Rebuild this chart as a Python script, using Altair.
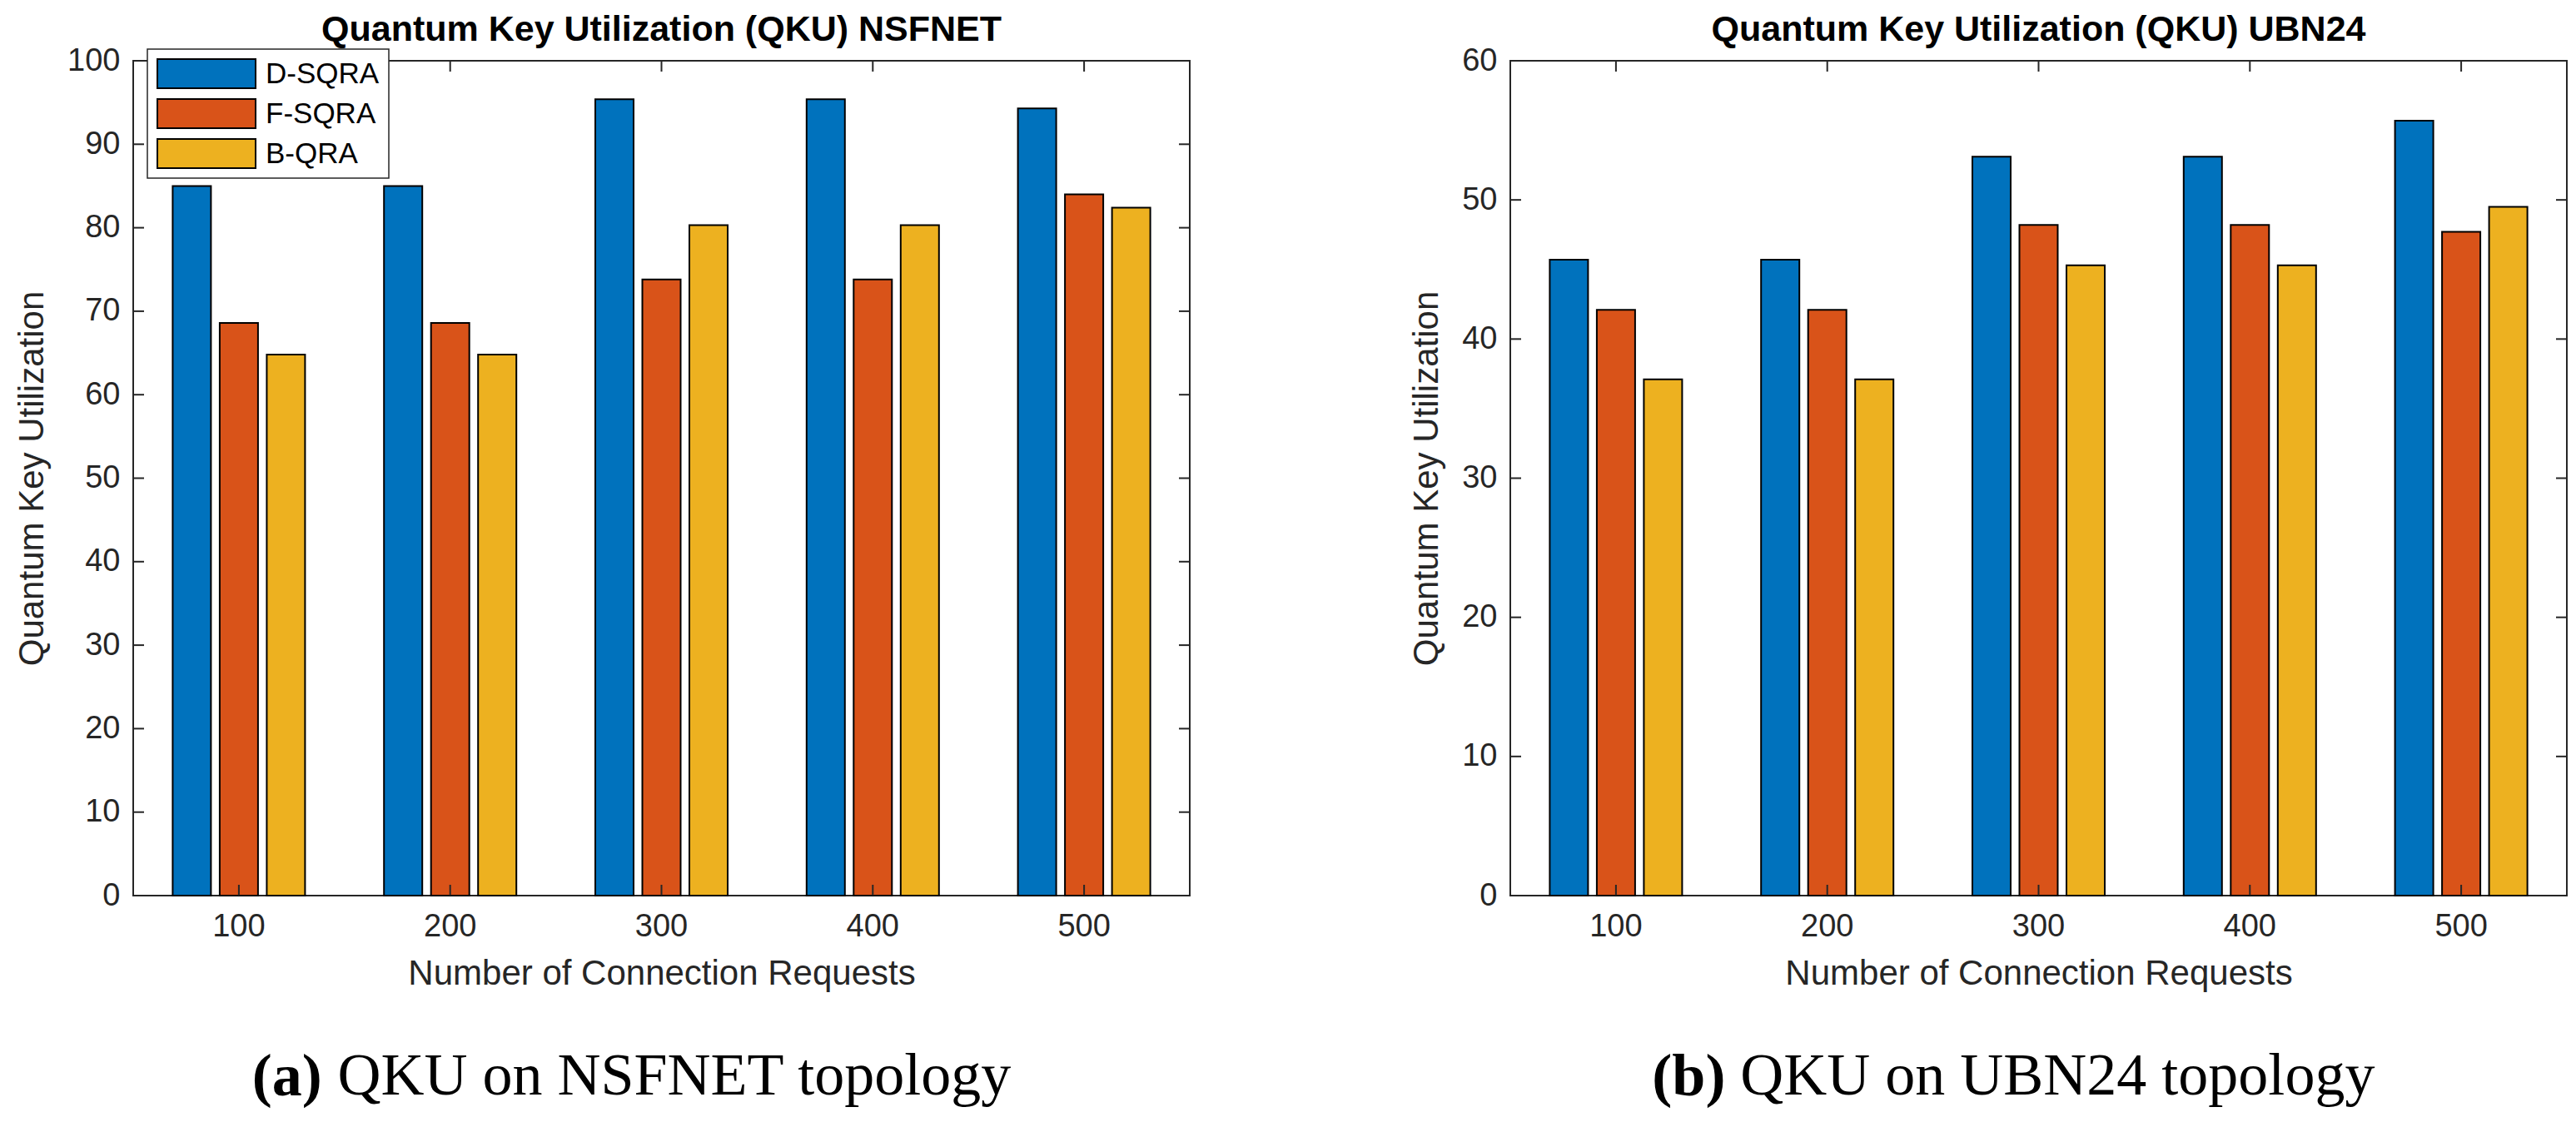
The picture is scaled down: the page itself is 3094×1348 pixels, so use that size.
import altair as alt
import pandas as pd

# ---------------- data ----------------
CATEGORIES = ["100", "200", "300", "400", "500"]
SERIES = ["D-SQRA", "F-SQRA", "B-QRA"]
COLORS = ["#0072BD", "#D95319", "#EDB120"]

NSFNET_D = [85.0, 85.0, 95.4, 95.4, 94.3]
NSFNET_F = [68.6, 68.6, 73.8, 73.8, 84.0]
NSFNET_B = [64.8, 64.8, 80.3, 80.3, 82.4]

UBN24_D = [45.7, 45.7, 53.1, 53.1, 55.7]
UBN24_F = [42.1, 42.1, 48.2, 48.2, 47.7]
UBN24_B = [37.1, 37.1, 45.3, 45.3, 49.5]

Y_TICKS_A = [0, 10, 20, 30, 40, 50, 60, 70, 80, 90, 100]
Y_TICKS_B = [0, 10, 20, 30, 40, 50, 60]

TITLE_A = "Quantum Key Utilization (QKU) NSFNET"
TITLE_B = "Quantum Key Utilization (QKU) UBN24"
CAPTION_A_TAG = "(a)"
CAPTION_A_TEXT = "QKU on NSFNET topology"
CAPTION_B_TAG = "(b)"
CAPTION_B_TEXT = "QKU on UBN24 topology"
X_TITLE = "Number of Connection Requests"
Y_TITLE = "Quantum Key Utilization"

W, H = 1269, 1003
TICK = 13
AXIS_COLOR = "#262626"
SANS = "Liberation Sans"
SERIF = "Liberation Serif"
CAP_SIZE = 72


def make_df(d, f, b):
    rows = []
    for s, vals in zip(SERIES, [d, f, b]):
        for c, v in zip(CATEGORIES, vals):
            rows.append({"cat": c, "series": s, "value": v})
    return pd.DataFrame(rows)


def panel(df, yticks, ymax, title, cap_tag, cap_text, cap_dx_tag, cap_dx_text,
          legend_x, legend_y, title_offset):
    xscale = alt.Scale(domain=CATEGORIES, paddingInner=0.3735, paddingOuter=0.18675)
    yscale = alt.Scale(domain=[0, ymax], nice=False, zero=True)

    bars = alt.Chart(df).mark_bar(stroke="black", strokeWidth=2).encode(
        x=alt.X("cat:N", scale=xscale, sort=CATEGORIES,
                axis=alt.Axis(title=X_TITLE, labelAngle=0, ticks=False, tickSize=0,
                              domain=False, labelPadding=18, titlePadding=17)),
        xOffset=alt.XOffset("series:N", sort=SERIES,
                            scale=alt.Scale(domain=SERIES, paddingInner=0.186, paddingOuter=0)),
        y=alt.Y("value:Q", scale=yscale,
                axis=alt.Axis(title=Y_TITLE, values=yticks, ticks=False, tickSize=0,
                              domain=False, labelPadding=16, titlePadding=20, grid=False)),
        color=alt.Color("series:N", sort=SERIES,
                        scale=alt.Scale(domain=SERIES, range=COLORS),
                        legend=alt.Legend(title=None, orient="none",
                                          legendX=legend_x, legendY=legend_y,
                                          direction="vertical",
                                          symbolType="M-1,-0.2966H1V0.2966H-1Z",
                                          symbolSize=13924,
                                          symbolStrokeColor="black",
                                          symbolStrokeWidth=2,
                                          symbolOffset=0,
                                          clipHeight=37,
                                          rowPadding=11,
                                          labelOffset=11,
                                          labelFont=SANS, labelFontSize=35,
                                          labelColor="black", labelLimit=400,
                                          padding=11,
                                          fillColor="white",
                                          strokeColor=AXIS_COLOR)),
    )

    ytick_df = pd.DataFrame({"v": yticks})
    ytl = alt.Chart(ytick_df).mark_rule(color=AXIS_COLOR, strokeWidth=2).encode(
        y=alt.Y("v:Q", scale=yscale), x=alt.value(0), x2=alt.value(TICK))
    ytr = alt.Chart(ytick_df).mark_rule(color=AXIS_COLOR, strokeWidth=2).encode(
        y=alt.Y("v:Q", scale=yscale), x=alt.value(W), x2=alt.value(W - TICK))

    xtick_df = pd.DataFrame({"cat": CATEGORIES})
    xtb = alt.Chart(xtick_df).mark_rule(color=AXIS_COLOR, strokeWidth=2).encode(
        x=alt.X("cat:N", scale=xscale, sort=CATEGORIES), y=alt.value(H), y2=alt.value(H - TICK))
    xtt = alt.Chart(xtick_df).mark_rule(color=AXIS_COLOR, strokeWidth=2).encode(
        x=alt.X("cat:N", scale=xscale, sort=CATEGORIES), y=alt.value(0), y2=alt.value(TICK))

    layer = alt.layer(bars, ytl, ytr, xtb, xtt).properties(
        width=W, height=H,
        title=alt.TitleParams(title, font=SANS, fontSize=43, fontWeight="bold",
                              color="black", anchor="middle", frame="group",
                              offset=title_offset),
    )
    inner = alt.vconcat(layer).properties(
        title=alt.TitleParams(cap_tag, orient="bottom", font=SERIF, fontSize=CAP_SIZE,
                              fontWeight="bold", color="black", anchor="middle",
                              offset=68, dx=cap_dx_tag)
    )
    outer = alt.vconcat(inner).properties(
        title=alt.TitleParams(cap_text, orient="bottom", font=SERIF, fontSize=CAP_SIZE,
                              fontWeight="normal", color="black", anchor="middle",
                              offset=-CAP_SIZE, dx=cap_dx_text)
    )
    return outer


df_a = make_df(NSFNET_D, NSFNET_F, NSFNET_B)
df_b = make_df(UBN24_D, UBN24_F, UBN24_B)

left = panel(df_a, Y_TICKS_A, 100, TITLE_A, CAPTION_A_TAG, CAPTION_A_TEXT,
             -379, 86, 17, -14, -4)
right = panel(df_b, Y_TICKS_B, 60, TITLE_B, CAPTION_B_TAG, CAPTION_B_TEXT,
              -360, 83, 43, 6, -4)

chart = alt.hconcat(left, right, spacing=260).properties(
    padding={"left": 8, "top": 6, "right": 0, "bottom": 4}
).configure_view(stroke=AXIS_COLOR, strokeWidth=2).configure_axis(
    labelFont=SANS, labelFontSize=38, labelColor=AXIS_COLOR,
    titleFont=SANS, titleFontSize=42, titleColor=AXIS_COLOR, titleFontWeight="normal",
    grid=False,
).configure_legend(strokeWidth=1.5).configure_concat(spacing=0)

chart.save("out.html", embed_options={"renderer": "svg", "actions": False})
